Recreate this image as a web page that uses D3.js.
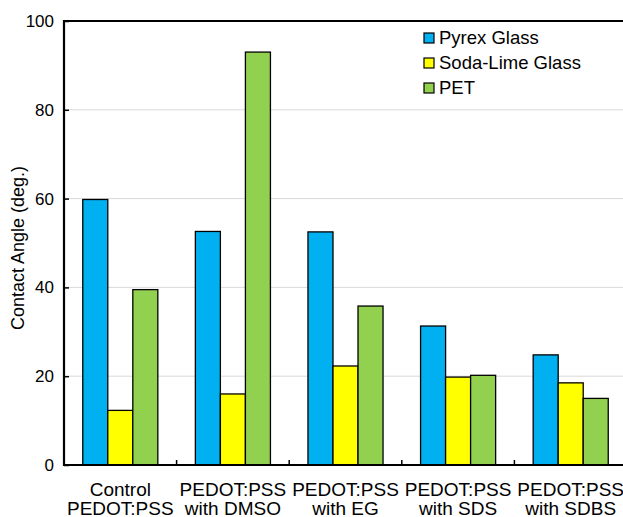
<!DOCTYPE html>
<meta charset="utf-8">
<style>
body { margin: 0; background: #fff; }
text { font-family: Arial, "Liberation Sans", sans-serif; fill: #000; }
</style>
<body>
<svg width="623" height="517" id="vis"></svg>
<script src="https://d3js.org/d3.v7.min.js"></script>
<script>
var categories = ["Control PEDOT:PSS", "PEDOT:PSS with DMSO", "PEDOT:PSS with EG", "PEDOT:PSS with SDS", "PEDOT:PSS with SDBS"];
var catLines = [["Control", "PEDOT:PSS"], ["PEDOT:PSS", "with DMSO"], ["PEDOT:PSS", "with EG"], ["PEDOT:PSS", "with SDS"], ["PEDOT:PSS", "with SDBS"]];
var series = ["Pyrex Glass", "Soda-Lime Glass", "PET"];
var pyrex = [59.8, 52.6, 52.5, 31.3, 24.8];
var sodaLime = [12.3, 16.0, 22.3, 19.8, 18.5];
var pet = [39.5, 93.0, 35.8, 20.2, 15.0];
var yTicks = [0, 20, 40, 60, 80, 100];
var colours = ["#00b0f0", "#ffff00", "#92d050"];

var svg = d3.select("svg"),
    margin = {top: 21, left: 64, bottom: 465, right: 627};

var values = [pyrex, sodaLime, pet];

var x0 = d3.scaleBand().domain(categories).range([margin.left, margin.right]);
var x1 = d3.scaleBand().domain(series).range([0, x0.bandwidth()]).paddingOuter(0.75);
var y = d3.scaleLinear().domain([0, 100]).range([margin.bottom, margin.top]);

// gridlines
svg.append("g").selectAll("line").data(yTicks.slice(1, -1)).enter().append("line")
    .attr("x1", margin.left).attr("x2", margin.right)
    .attr("y1", function(d) { return y(d); }).attr("y2", function(d) { return y(d); })
    .attr("stroke", "#d9d9d9").attr("stroke-width", 1);

// bars
var groups = svg.append("g").selectAll("g").data(categories).enter().append("g")
    .attr("transform", function(d) { return "translate(" + x0(d) + ",0)"; });

groups.selectAll("rect").data(function(d, i) {
        return series.map(function(s, j) { return {s: s, v: values[j][i], c: colours[j]}; });
    }).enter().append("rect")
    .attr("x", function(d) { return x1(d.s); })
    .attr("y", function(d) { return y(d.v); })
    .attr("width", x1.bandwidth())
    .attr("height", function(d) { return y(0) - y(d.v); })
    .attr("fill", function(d) { return d.c; })
    .attr("stroke", "#000").attr("stroke-width", 1.3);

// y axis
var yaxis = svg.append("g")
    .attr("transform", "translate(" + margin.left + ",0)")
    .call(d3.axisRight(y).tickValues(yTicks).tickSize(5).tickFormat(""));
yaxis.select(".domain").remove();
yaxis.selectAll("line").attr("stroke", "#000").attr("stroke-width", 1.5);

svg.append("g").selectAll("text").data(yTicks).enter().append("text")
    .attr("x", 54).attr("y", function(d) { return y(d); })
    .attr("dy", "0.35em").attr("text-anchor", "end")
    .style("font-size", "17px")
    .text(function(d) { return d; });

// x ticks between groups
svg.append("g").selectAll("line").data(categories.slice(1)).enter().append("line")
    .attr("x1", function(d) { return x0(d); }).attr("x2", function(d) { return x0(d); })
    .attr("y1", margin.bottom).attr("y2", margin.bottom - 5)
    .attr("stroke", "#000").attr("stroke-width", 1.5);

// frame lines
svg.append("line").attr("x1", margin.left).attr("x2", margin.left)
    .attr("y1", margin.top - 1).attr("y2", margin.bottom + 1)
    .attr("stroke", "#000").attr("stroke-width", 2.2);
svg.append("line").attr("x1", margin.left - 1).attr("x2", margin.right)
    .attr("y1", margin.bottom).attr("y2", margin.bottom)
    .attr("stroke", "#000").attr("stroke-width", 2.2);
svg.append("line").attr("x1", margin.left - 1).attr("x2", margin.right)
    .attr("y1", margin.top).attr("y2", margin.top)
    .attr("stroke", "#000").attr("stroke-width", 2.2);

// category labels
var lbl = svg.append("g").selectAll("text").data(categories).enter().append("text")
    .attr("text-anchor", "middle")
    .style("font-size", "19px");
lbl.each(function(d, i) {
    var t = d3.select(this), cx = x0(d) + x0.bandwidth() / 2;
    catLines[i].forEach(function(line, k) {
        t.append("tspan").attr("x", cx).attr("y", 496 + k * 19).text(line);
    });
});

// y title
svg.append("text")
    .attr("transform", "translate(24,248) rotate(-90)")
    .attr("text-anchor", "middle")
    .style("font-size", "18px")
    .text("Contact Angle (deg.)");

// legend
var legend = svg.append("g").selectAll("g").data(series).enter().append("g")
    .attr("transform", function(d, i) { return "translate(424," + (38 + i * 25) + ")"; });
legend.append("rect")
    .attr("x", 0).attr("y", -5).attr("width", 10).attr("height", 10)
    .attr("fill", function(d, i) { return colours[i]; })
    .attr("stroke", "#000").attr("stroke-width", 1.2);
legend.append("text")
    .attr("x", 15).attr("dy", "0.35em")
    .style("font-size", "18.5px")
    .text(function(d) { return d; });
</script>
</body>
